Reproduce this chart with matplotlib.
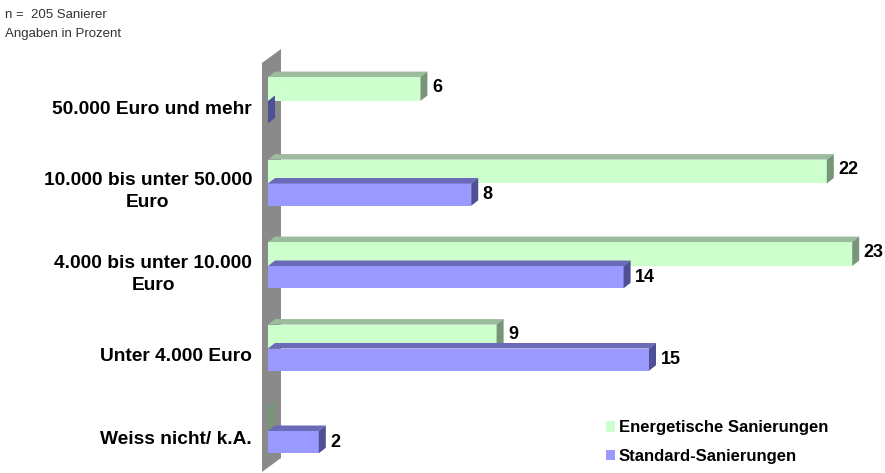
import matplotlib.pyplot as plt
from matplotlib.patches import Polygon, Patch

categories = ['50.000 Euro und mehr',
              '10.000 bis unter 50.000\nEuro',
              '4.000 bis unter 10.000\nEuro',
              'Unter 4.000 Euro',
              'Weiss nicht/ k.A.']
energetisch = [6, 22, 23, 9, 0]
standard = [0, 8, 14, 15, 2]
series_names = ['Energetische Sanierungen', 'Standard-Sanierungen']

# face colours: front, top, side
green = ('#ccffcc', '#9dbb9d', '#779577')
blue = ('#9999ff', '#6a6ab8', '#4f4f96')

plt.rcParams['font.family'] = ['Liberation Sans', 'DejaVu Sans']

fig = plt.figure(figsize=(8.85, 4.73), dpi=100)
ax = fig.add_axes([245 / 885, 0, 640 / 885, 1])
u = 25.4  # px per percent
ax.set_xlim(-23 / u, (885 - 268) / u)
ax.set_ylim((473 - 101) / 82.5, -101 / 82.5)
ax.axis('off')

dx = 7 / u
dy = 5.5 / 82.5
h_g = 0.29
h_b = 0.27

# grey wall on the left
def px(x, y):
    return ((x - 268) / u, (y - 101) / 82.5)

wall = Polygon([px(262, 472), px(262, 63), px(281, 49), px(281, 458)],
               closed=True, facecolor='#8a8a8a', edgecolor='none', zorder=1)
ax.add_patch(wall)


def bar3d(y0, h, v, cols):
    ax.barh(y0, v, height=h, align='edge', color=cols[0], zorder=3)
    top = [(0, y0), (v, y0), (v + dx, y0 - dy), (dx, y0 - dy)]
    side = [(v, y0), (v + dx, y0 - dy), (v + dx, y0 + h - dy), (v, y0 + h)]
    if v > 0:
        ax.add_patch(Polygon(top, closed=True, facecolor=cols[1],
                             edgecolor='none', zorder=3))
    ax.add_patch(Polygon(side, closed=True, facecolor=cols[2],
                         edgecolor='none', zorder=3))


gap = 0.18
for i, (e, s) in enumerate(zip(energetisch, standard)):
    bar3d(i - h_g, h_g, e, green)
    bar3d(i, h_b, s, blue)
    if e > 0:
        ax.text(e + dx + gap, i - h_g / 2 - 0.02, str(e), ha='left',
                va='center', fontsize=13, fontweight='bold', zorder=5)
    if s > 0:
        ax.text(s + dx + gap, i + h_b / 2, str(s), ha='left',
                va='center', fontsize=13, fontweight='bold', zorder=5)
    ax.text(-16 / u, i + 0.1, categories[i], ha='right', va='center',
            multialignment='center', fontsize=13.8, fontweight='bold',
            linespacing=1.35)

handles = [Patch(facecolor=green[0], edgecolor='none'),
           Patch(facecolor=blue[0], edgecolor='none')]
ax.legend(handles, series_names, loc='lower right',
          bbox_to_anchor=(0.935, -0.012), frameon=False,
          prop={'weight': 'bold', 'size': 12}, handlelength=0.55,
          handleheight=0.6, handletextpad=0.25, labelspacing=0.8)

fig.text(5 / 885, 1 - 15 / 473, 'n =  205 Sanierer', fontsize=9.5,
         color='#333333', va='center')
fig.text(5 / 885, 1 - 34 / 473, 'Angaben in Prozent', fontsize=9.5,
         color='#333333', va='center')

fig.savefig('out.png', dpi=100)
